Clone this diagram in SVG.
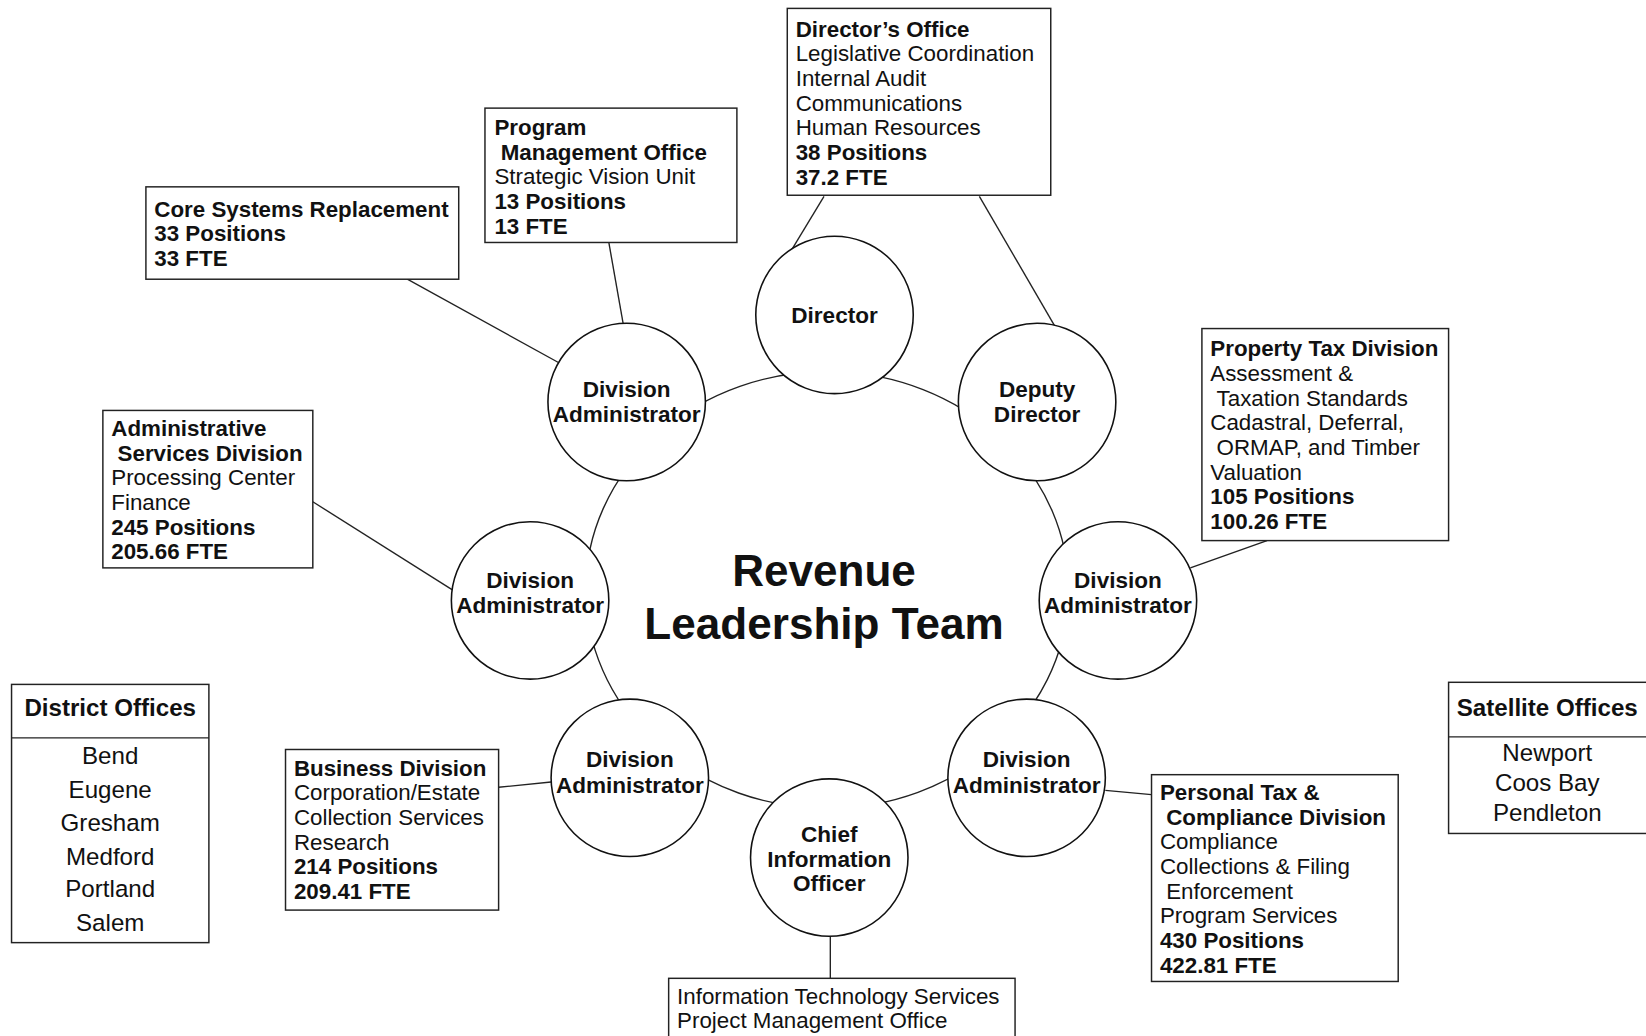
<svg xmlns="http://www.w3.org/2000/svg" width="1646" height="1036" viewBox="0 0 1646 1036">
<style>
.bx{fill:#fff;stroke:#222;stroke-width:1.4}
.ci{fill:#fff;stroke:#111;stroke-width:1.5}
.ln{fill:none;stroke:#222;stroke-width:1.3}
text{font-family:"Liberation Sans",Arial,Helvetica,sans-serif;fill:#111}
.t{font-size:21.3px}
.b{font-weight:bold}
.c{font-size:21.5px;font-weight:bold;text-anchor:middle}
.o{font-size:23px;text-anchor:middle}
.ttl{font-size:42px;font-weight:bold;text-anchor:middle}
</style>
<rect width="1646" height="1036" fill="#fff"/>
<g transform="scale(1.0497)">
<g id="connectors">
<path class="ln" d="M794,354 A230,208 0 0 1 951.5,415.8"/>
<path class="ln" d="M951.5,415.8 A230,208 0 0 1 1017.8,570.3"/>
<path class="ln" d="M1017.8,570.3 A230,208 0 0 1 947.2,712.2"/>
<path class="ln" d="M947.2,712.2 A230,208 0 0 1 789.6,770"/>
<path class="ln" d="M789.6,770 A230,208 0 0 1 629.8,712.9"/>
<path class="ln" d="M629.8,712.9 A230,208 0 0 1 558.2,570"/>
<path class="ln" d="M558.2,570 A230,208 0 0 1 628.6,412.2"/>
<path class="ln" d="M628.6,412.2 A230,208 0 0 1 794,354"/>
<line class="ln" x1="785" y1="187" x2="753" y2="240"/>
<line class="ln" x1="933" y1="187" x2="1005" y2="311"/>
<line class="ln" x1="580" y1="231" x2="595" y2="316"/>
<line class="ln" x1="388" y1="266" x2="535" y2="347"/>
<line class="ln" x1="298" y1="478" x2="431" y2="562"/>
<line class="ln" x1="1207" y1="515" x2="1134" y2="541"/>
<line class="ln" x1="475" y1="750" x2="525" y2="745"/>
<line class="ln" x1="1053" y1="753" x2="1097" y2="757"/>
<line class="ln" x1="791" y1="892" x2="791" y2="932"/>
</g>

<g id="director"><circle class="ci" cx="795" cy="300" r="75"/><text class="c" x="795" y="308">Director</text></g>
<g id="deputy-director"><circle class="ci" cx="988" cy="383" r="75"/><text class="c" x="988" y="378.5">Deputy</text><text class="c" x="988" y="402">Director</text></g>
<g id="div-admin-tl"><circle class="ci" cx="597" cy="383" r="75"/><text class="c" x="597" y="378.5">Division</text><text class="c" x="597" y="402">Administrator</text></g>
<g id="div-admin-l"><circle class="ci" cx="505" cy="572" r="75"/><text class="c" x="505" y="560">Division</text><text class="c" x="505" y="584">Administrator</text></g>
<g id="div-admin-r"><circle class="ci" cx="1065" cy="572" r="75"/><text class="c" x="1065" y="560">Division</text><text class="c" x="1065" y="584">Administrator</text></g>
<g id="div-admin-bl"><circle class="ci" cx="600" cy="741" r="75"/><text class="c" x="600" y="731">Division</text><text class="c" x="600" y="755">Administrator</text></g>
<g id="div-admin-br"><circle class="ci" cx="978" cy="741" r="75"/><text class="c" x="978" y="731">Division</text><text class="c" x="978" y="755">Administrator</text></g>
<g id="cio"><circle class="ci" cx="790" cy="817" r="75"/><text class="c" x="790" y="802">Chief</text><text class="c" x="790" y="825.5">Information</text><text class="c" x="790" y="849">Officer</text></g>

<g id="title"><text class="ttl" x="785" y="558">Revenue</text><text class="ttl" x="785" y="609">Leadership Team</text></g>

<g id="directors-office">
<rect class="bx" x="750" y="8" width="251" height="178"/>
<text class="t b" x="758" y="35">Director’s Office</text>
<text class="t" x="758" y="58.5">Legislative Coordination</text>
<text class="t" x="758" y="82">Internal Audit</text>
<text class="t" x="758" y="105.5">Communications</text>
<text class="t" x="758" y="129">Human Resources</text>
<text class="t b" x="758" y="152.5">38 Positions</text>
<text class="t b" x="758" y="176">37.2 FTE</text>
</g>
<g id="program-management-office">
<rect class="bx" x="462" y="103" width="240" height="128"/>
<text class="t b" x="471" y="128.5">Program</text>
<text class="t b" x="477" y="152">Management Office</text>
<text class="t" x="471" y="175.5">Strategic Vision Unit</text>
<text class="t b" x="471" y="199">13 Positions</text>
<text class="t b" x="471" y="222.5">13 FTE</text>
</g>
<g id="core-systems">
<rect class="bx" x="139" y="178" width="298" height="88"/>
<text class="t b" x="147" y="206.5">Core Systems Replacement</text>
<text class="t b" x="147" y="230">33 Positions</text>
<text class="t b" x="147" y="253.5">33 FTE</text>
</g>
<g id="admin-services">
<rect class="bx" x="98" y="391" width="200" height="150"/>
<text class="t b" x="106" y="415.5">Administrative</text>
<text class="t b" x="112" y="439">Services Division</text>
<text class="t" x="106" y="462.5">Processing Center</text>
<text class="t" x="106" y="486">Finance</text>
<text class="t b" x="106" y="509.5">245 Positions</text>
<text class="t b" x="106" y="533">205.66 FTE</text>
</g>
<g id="property-tax">
<rect class="bx" x="1145" y="313" width="235" height="202"/>
<text class="t b" x="1153" y="339.5">Property Tax Division</text>
<text class="t" x="1153" y="363">Assessment &amp;</text>
<text class="t" x="1159" y="386.5">Taxation Standards</text>
<text class="t" x="1153" y="410">Cadastral, Deferral,</text>
<text class="t" x="1159" y="433.5">ORMAP, and Timber</text>
<text class="t" x="1153" y="457">Valuation</text>
<text class="t b" x="1153" y="480.5">105 Positions</text>
<text class="t b" x="1153" y="504">100.26 FTE</text>
</g>
<g id="business-division">
<rect class="bx" x="272" y="714" width="203" height="153"/>
<text class="t b" x="280" y="739">Business Division</text>
<text class="t" x="280" y="762.5">Corporation/Estate</text>
<text class="t" x="280" y="786">Collection Services</text>
<text class="t" x="280" y="809.5">Research</text>
<text class="t b" x="280" y="833">214 Positions</text>
<text class="t b" x="280" y="856.5">209.41 FTE</text>
</g>
<g id="personal-tax">
<rect class="bx" x="1097" y="738" width="235" height="197"/>
<text class="t b" x="1105" y="762">Personal Tax &amp;</text>
<text class="t b" x="1111" y="785.5">Compliance Division</text>
<text class="t" x="1105" y="809">Compliance</text>
<text class="t" x="1105" y="832.5">Collections &amp; Filing</text>
<text class="t" x="1111" y="856">Enforcement</text>
<text class="t" x="1105" y="879.5">Program Services</text>
<text class="t b" x="1105" y="903">430 Positions</text>
<text class="t b" x="1105" y="926.5">422.81 FTE</text>
</g>
<g id="it-services">
<rect class="bx" x="637" y="932" width="330" height="70"/>
<text class="t" x="645" y="956">Information Technology Services</text>
<text class="t" x="645" y="979.5">Project Management Office</text>
</g>
<g id="district-offices">
<rect class="bx" x="11" y="652" width="188" height="246"/>
<line class="ln" x1="11" y1="703" x2="199" y2="703"/>
<text class="o b" x="105" y="682">District Offices</text>
<text class="o" x="105" y="728">Bend</text>
<text class="o" x="105" y="760">Eugene</text>
<text class="o" x="105" y="792">Gresham</text>
<text class="o" x="105" y="824">Medford</text>
<text class="o" x="105" y="855">Portland</text>
<text class="o" x="105" y="887">Salem</text>
</g>
<g id="satellite-offices">
<rect class="bx" x="1380" y="650" width="200" height="144"/>
<line class="ln" x1="1380" y1="702" x2="1580" y2="702"/>
<text class="o b" x="1474" y="682">Satellite Offices</text>
<text class="o" x="1474" y="725">Newport</text>
<text class="o" x="1474" y="753.5">Coos Bay</text>
<text class="o" x="1474" y="782">Pendleton</text>
</g>
</g>
</svg>
